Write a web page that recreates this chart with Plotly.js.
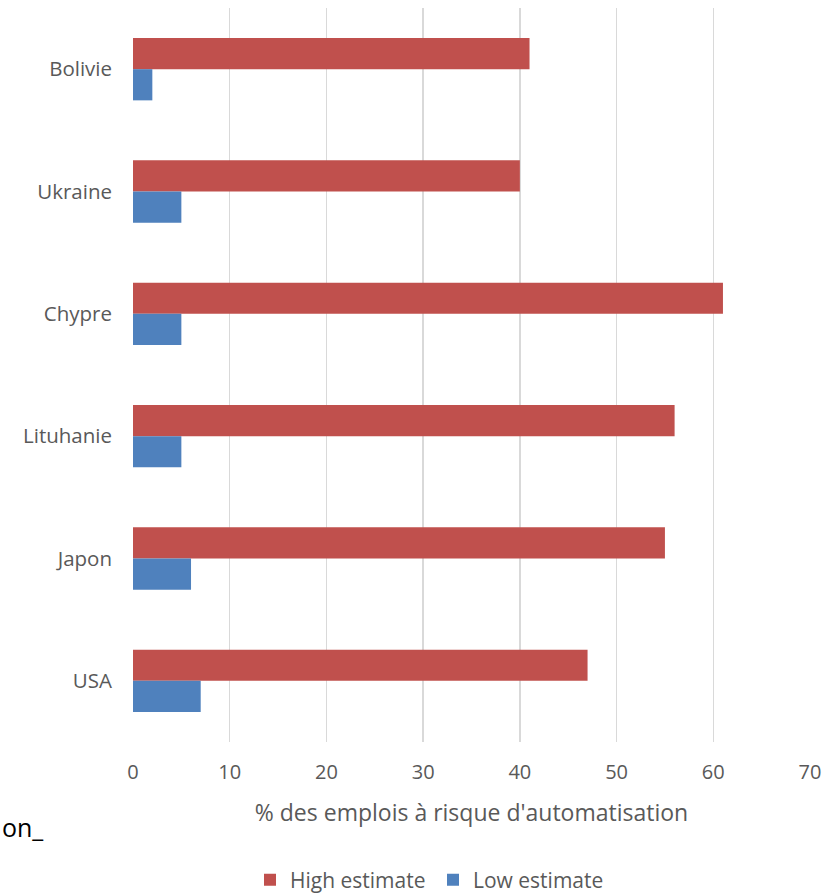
<!DOCTYPE html>
<html>
<head>
<meta charset="utf-8">
<script src="https://cdn.plot.ly/plotly-3.0.1.min.js"></script>
<style>
  html, body { margin: 0; padding: 0; background: #ffffff; }
  #chart { width: 832px; height: 894px; }
</style>
</head>
<body>
<div id="chart"></div>
<script>
// Countries, top to bottom
const countries = ["Bolivie", "Ukraine", "Chypre", "Lituhanie", "Japon", "USA"];
// Share of jobs at risk of automation (%)
const highEstimate = [41, 40, 61, 56, 55, 47];
const lowEstimate = [2, 5, 5, 5, 6, 7];
const xTicks = [0, 10, 20, 30, 40, 50, 60, 70];

const FONT = "Open Sans, sans-serif";
const GREY = "#595959";

const traces = [
  {
    type: "bar",
    orientation: "h",
    name: "High estimate",
    y: countries,
    x: highEstimate,
    marker: { color: "#C0504D" },
    hoverinfo: "x+name"
  },
  {
    type: "bar",
    orientation: "h",
    name: "Low estimate",
    y: countries,
    x: lowEstimate,
    marker: { color: "#4F81BD" },
    hoverinfo: "x+name"
  }
];

const layout = {
  width: 832,
  height: 894,
  margin: { l: 133, r: 22, t: 8, b: 152 },
  paper_bgcolor: "#ffffff",
  plot_bgcolor: "#ffffff",
  barmode: "group",
  bargap: 0.49,
  bargroupgap: 0,
  font: { family: FONT, color: GREY, size: 20 },
  xaxis: {
    range: [0, 70],
    tickvals: xTicks,
    ticktext: xTicks.map(String),
    showgrid: true,
    gridcolor: "#D9D9D9",
    gridwidth: 1.5,
    zeroline: false,
    showline: false,
    ticks: "",
    ticklabelstandoff: 16,
    tickfont: { family: FONT, size: 20, color: GREY },
    title: {
      text: "% des emplois à risque d'automatisation",
      font: { family: FONT, size: 23, color: GREY },
      standoff: 20
    },
    fixedrange: true
  },
  yaxis: {
    type: "category",
    autorange: "reversed",
    showgrid: false,
    zeroline: false,
    showline: false,
    ticks: "",
    ticklabelstandoff: 20,
    tickfont: { family: FONT, size: 20.5, color: GREY },
    fixedrange: true
  },
  showlegend: true,
  legend: {
    orientation: "h",
    xref: "container",
    yref: "container",
    x: 250 / 832,
    xanchor: "left",
    y: 1 - 880 / 894,
    yanchor: "middle",
    entrywidth: 138,
    entrywidthmode: "pixels",
    font: { family: FONT, size: 21, color: GREY },
    itemclick: false,
    itemdoubleclick: false,
    tracegroupgap: 0
  },
  annotations: [
    {
      text: "on_",
      xref: "paper",
      yref: "paper",
      x: -133 / 677,
      xanchor: "left",
      y: -85 / 734,
      yanchor: "middle",
      showarrow: false,
      font: { family: FONT, size: 25, color: "#000000" }
    }
  ]
};

Plotly.newPlot("chart", traces, layout, { displayModeBar: false, staticPlot: true });
</script>
</body>
</html>
